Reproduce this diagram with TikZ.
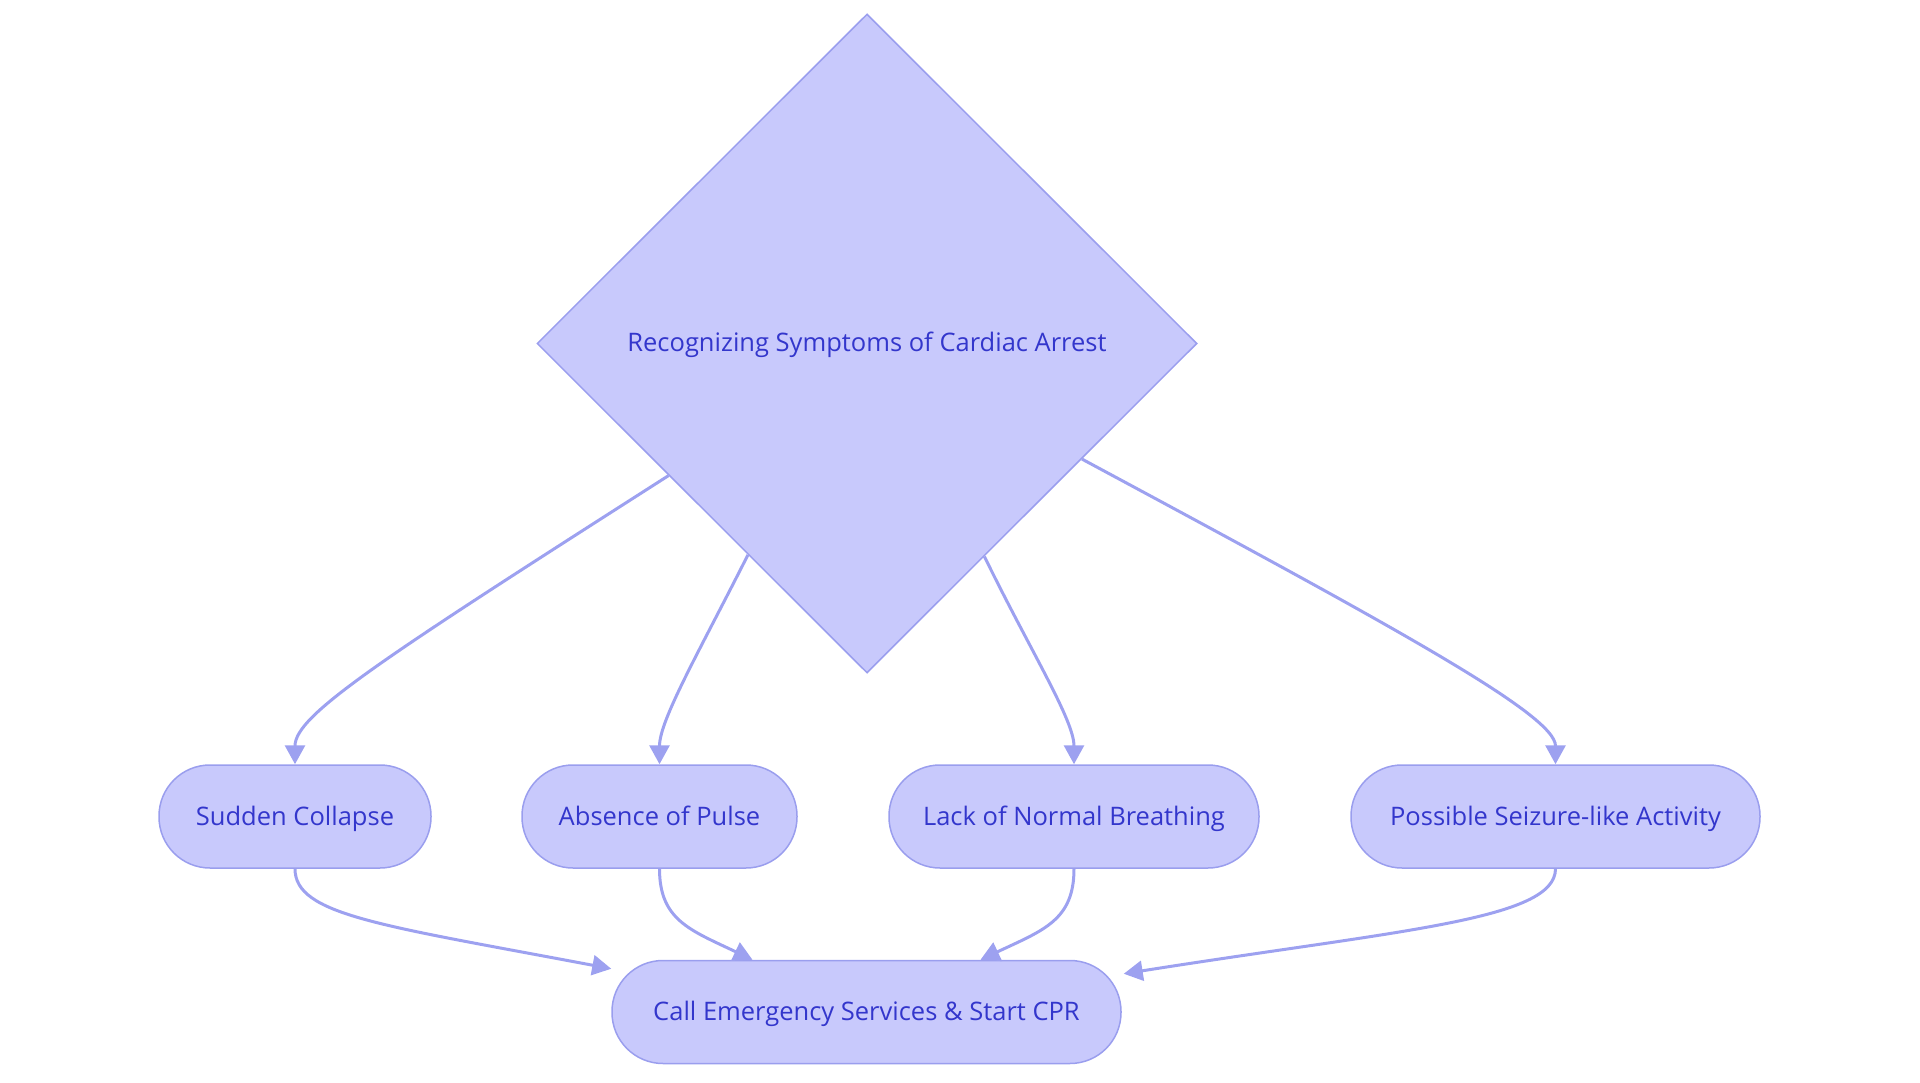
\documentclass[tikz,border=0pt]{standalone}
\usepackage{fontspec}
\setmainfont{Open Sans}
\usetikzlibrary{shapes.geometric,arrows.meta,calc}
\definecolor{nodefill}{HTML}{C8C9FC}
\definecolor{nodeline}{HTML}{9A9EEE}
\definecolor{edgecol}{HTML}{9DA1F0}
\definecolor{textcol}{HTML}{3336CC}
\tikzset{
  pill/.style={rectangle, rounded corners=51pt, draw=nodeline, line width=1.5pt, fill=nodefill,
    minimum height=103pt, inner sep=0pt, text=textcol, text height=20pt, text depth=3pt,
    font=\fontsize{25.5}{30}\selectfont},
  decision/.style={diamond, draw=nodeline, line width=1.5pt, fill=nodefill, inner sep=0pt,
    minimum width=660pt, minimum height=659pt, text=textcol, text height=20pt, text depth=3pt,
    font=\fontsize{25.5}{30}\selectfont},
  flow/.style={draw=edgecol, line width=3pt, -{Triangle[length=19pt,width=20pt]}}
}
\begin{document}
\begin{tikzpicture}[x=1pt,y=-1pt]
\useasboundingbox (0,0) rectangle (1920,1083);
\node[decision] (d) at (867,343.5) {Recognizing Symptoms of Cardiac Arrest};
\node[pill, minimum width=272pt] (s1) at (295,816.5) {Sudden Collapse};
\node[pill, minimum width=275pt] (s2) at (659.5,816.5) {Absence of Pulse};
\node[pill, minimum width=370pt] (s3) at (1074,816.5) {Lack of Normal Breathing};
\node[pill, minimum width=409pt] (s4) at (1555.5,816.5) {Possible Seizure-like Activity};
\node[pill, minimum width=509pt] (c) at (866.5,1012) {Call Emergency Services \& Start CPR};
% diamond to symptoms
\coordinate (a1) at ($(d.west)!0.4!(d.south)$);
\coordinate (a2) at ($(d.west)!0.64!(d.south)$);
\coordinate (a3) at ($(d.south)!0.355!(d.east)$);
\coordinate (a4) at ($(d.south)!0.65!(d.east)$);
\draw[flow] (a1) .. controls (380,660) and (295,715) .. (s1.north);
\draw[flow] (a2) .. controls (700,650) and (659.5,720) .. (s2.north);
\draw[flow] (a3) .. controls (1030,650) and (1074,720) .. (s3.north);
\draw[flow] (a4) .. controls (1400,630) and (1555.5,715) .. (s4.north);
% symptoms to call
\coordinate (b1) at ($(c.north west)+(0,9)$);
\coordinate (b2) at ($(c.north)+(-114,0)$);
\coordinate (b3) at ($(c.north)+(114,0)$);
\coordinate (b4) at ($(c.north east)+(2,14)$);
\draw[flow] (s1.south) .. controls (295,915) and (380,925) .. (b1);
\draw[flow] (s2.south) .. controls (659.5,920) and (690,930) .. (b2);
\draw[flow] (s3.south) .. controls (1074,920) and (1044,930) .. (b3);
\draw[flow] (s4.south) .. controls (1555.5,920) and (1400,930) .. (b4);
\end{tikzpicture}
\end{document}
